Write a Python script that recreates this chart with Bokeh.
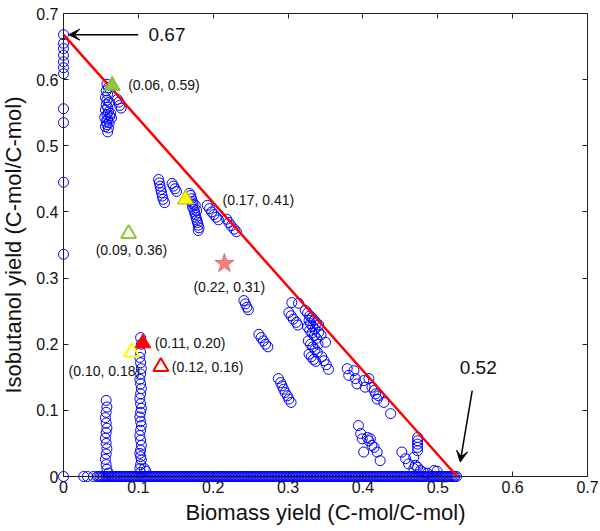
from bokeh.plotting import figure
from bokeh.models import (Range1d, FixedTicker, LinearAxis, CustomJSTickFormatter,
                          Arrow, VeeHead)
from bokeh.core.properties import value
from bokeh.embed import file_html
from bokeh.resources import INLINE

# ---------------- data ----------------
x_ticks = [0.0, 0.1, 0.2, 0.3, 0.4, 0.5, 0.6, 0.7]
x_tick_labels = ["0", "0.1", "0.2", "0.3", "0.4", "0.5", "0.6", "0.7"]
y_ticks = [0.0, 0.1, 0.2, 0.3, 0.4, 0.5, 0.6, 0.7]
y_tick_labels = ["0", "0.1", "0.2", "0.3", "0.4", "0.5", "0.6", "0.7"]

# column of solutions at zero biomass
col0_y = [0.668, 0.655, 0.647, 0.637, 0.627, 0.618, 0.609, 0.556, 0.535, 0.445, 0.336, 0.0]
col0_x = [0.0] * len(col0_y)

# cloud of alternative solutions (biomass yield, isobutanol yield)
cloud_x = [
    0.058, 0.060, 0.057, 0.059, 0.056, 0.058, 0.061, 0.057, 0.059, 0.056, 0.060, 0.058,
    0.062, 0.055, 0.059, 0.057, 0.061, 0.058, 0.056, 0.060, 0.063, 0.064, 0.059,
    0.072, 0.074, 0.075, 0.077,
    0.127, 0.128, 0.129, 0.130, 0.131, 0.132, 0.133, 0.135,
    0.145, 0.147, 0.149, 0.151,
    0.168, 0.170, 0.171, 0.172, 0.173, 0.172, 0.174, 0.175, 0.176, 0.177, 0.178, 0.179,
    0.180, 0.181, 0.180, 0.176, 0.178,
    0.192, 0.195, 0.198, 0.201, 0.204, 0.207,
    0.218, 0.221, 0.224, 0.228, 0.231,
    0.241, 0.243, 0.245, 0.247,
    0.305, 0.314,
    0.301, 0.304, 0.307, 0.311, 0.313,
    0.261, 0.264, 0.267, 0.270, 0.273,
    0.323, 0.326, 0.329, 0.332, 0.335, 0.338, 0.341, 0.328, 0.330, 0.333, 0.336, 0.326,
    0.329, 0.332, 0.335, 0.338, 0.341, 0.344, 0.327, 0.330, 0.333, 0.336, 0.339, 0.328,
    0.331, 0.334, 0.337, 0.345, 0.348, 0.351, 0.354, 0.350, 0.340,
    0.287, 0.290, 0.292, 0.294, 0.296, 0.299, 0.301, 0.304,
    0.379, 0.388, 0.381, 0.390, 0.392, 0.401, 0.403, 0.408, 0.412, 0.415, 0.417, 0.421,
    0.419, 0.428, 0.437,
    0.394, 0.397, 0.399, 0.406, 0.408, 0.410, 0.412, 0.415, 0.401, 0.419, 0.423,
    0.452, 0.457, 0.461, 0.468, 0.470, 0.468, 0.477, 0.473,
    0.473, 0.473, 0.473, 0.473, 0.473,
    0.495, 0.499, 0.481, 0.486,
    0.057, 0.058, 0.057, 0.056, 0.057, 0.058, 0.057, 0.056, 0.057, 0.058, 0.057, 0.056,
    0.057, 0.058, 0.060,
    0.103, 0.104, 0.103, 0.102, 0.103, 0.104, 0.103, 0.102, 0.103, 0.104, 0.103, 0.102,
    0.103, 0.104, 0.103, 0.102, 0.103, 0.104, 0.103, 0.102, 0.103, 0.104, 0.103, 0.102,
    0.103, 0.104, 0.103, 0.102, 0.103, 0.108, 0.110,
]
cloud_y = [
    0.593, 0.588, 0.583, 0.578, 0.573, 0.569, 0.566, 0.562, 0.558, 0.554, 0.551, 0.547,
    0.545, 0.543, 0.540, 0.537, 0.535, 0.532, 0.529, 0.527, 0.549, 0.542, 0.521,
    0.570, 0.566, 0.561, 0.557,
    0.449, 0.444, 0.439, 0.434, 0.429, 0.424, 0.419, 0.414,
    0.443, 0.439, 0.435, 0.431,
    0.428, 0.425, 0.420, 0.416, 0.412, 0.408, 0.404, 0.400, 0.396, 0.392, 0.388, 0.384,
    0.380, 0.376, 0.372, 0.410, 0.402,
    0.410, 0.405, 0.400, 0.396, 0.392, 0.388,
    0.389, 0.384, 0.379, 0.374, 0.370,
    0.266, 0.261, 0.256, 0.252,
    0.263, 0.262,
    0.248, 0.243, 0.238, 0.233, 0.229,
    0.215, 0.210, 0.205, 0.200, 0.196,
    0.251, 0.247, 0.243, 0.240, 0.236, 0.232, 0.229, 0.236, 0.231, 0.227, 0.223, 0.226,
    0.221, 0.217, 0.213, 0.209, 0.218, 0.214, 0.205, 0.200, 0.196, 0.192, 0.188, 0.185,
    0.181, 0.177, 0.174, 0.181, 0.175, 0.169, 0.162, 0.203, 0.200,
    0.148, 0.142, 0.137, 0.132, 0.127, 0.122, 0.117, 0.112,
    0.163, 0.160, 0.153, 0.148, 0.140, 0.145, 0.135, 0.148, 0.135, 0.130, 0.125, 0.122,
    0.117, 0.112, 0.095,
    0.077, 0.065, 0.057, 0.059, 0.054, 0.057, 0.047, 0.044, 0.037, 0.037, 0.024,
    0.037, 0.027, 0.019, 0.029, 0.017, 0.012, 0.009, 0.014,
    0.059, 0.054, 0.049, 0.044, 0.039,
    0.009, 0.008, 0.006, 0.005,
    0.115, 0.105, 0.097, 0.089, 0.081, 0.073, 0.066, 0.058, 0.050, 0.042, 0.034, 0.026,
    0.018, 0.011, 0.005,
    0.210, 0.200, 0.188, 0.180, 0.172, 0.163, 0.155, 0.147, 0.140, 0.133, 0.125, 0.118,
    0.110, 0.103, 0.097, 0.090, 0.083, 0.077, 0.070, 0.062, 0.055, 0.047, 0.040, 0.035,
    0.030, 0.025, 0.018, 0.012, 0.006, 0.012, 0.008,
]

# solutions with zero isobutanol yield (dense row along the x axis)
band_x = [
    0.027, 0.032, 0.040, 0.045, 0.047, 0.049, 0.051, 0.053, 0.055, 0.057, 0.059, 0.061,
    0.063, 0.065, 0.067, 0.069, 0.071, 0.073, 0.075, 0.077, 0.079, 0.081, 0.083, 0.085,
    0.087, 0.089, 0.091, 0.093, 0.095, 0.097, 0.099, 0.101, 0.103, 0.105, 0.107, 0.109,
    0.111, 0.113, 0.115, 0.117, 0.119, 0.121, 0.123, 0.125, 0.127, 0.129, 0.131, 0.133,
    0.135, 0.137, 0.139, 0.141, 0.143, 0.145, 0.147, 0.149, 0.151, 0.153, 0.155, 0.157,
    0.159, 0.161, 0.163, 0.165, 0.167, 0.169, 0.171, 0.173, 0.175, 0.177, 0.179, 0.181,
    0.183, 0.185, 0.187, 0.189, 0.191, 0.193, 0.195, 0.197, 0.199, 0.201, 0.203, 0.205,
    0.207, 0.209, 0.211, 0.213, 0.215, 0.217, 0.219, 0.221, 0.223, 0.225, 0.227, 0.229,
    0.231, 0.233, 0.235, 0.237, 0.239, 0.241, 0.243, 0.245, 0.247, 0.249, 0.251, 0.253,
    0.255, 0.257, 0.259, 0.261, 0.263, 0.265, 0.267, 0.269, 0.271, 0.273, 0.275, 0.277,
    0.279, 0.281, 0.283, 0.285, 0.287, 0.289, 0.291, 0.293, 0.295, 0.297, 0.299, 0.301,
    0.303, 0.305, 0.307, 0.309, 0.311, 0.313, 0.315, 0.317, 0.319, 0.321, 0.323, 0.325,
    0.327, 0.329, 0.331, 0.333, 0.335, 0.337, 0.339, 0.341, 0.343, 0.345, 0.347, 0.349,
    0.351, 0.353, 0.355, 0.357, 0.359, 0.361, 0.363, 0.365, 0.367, 0.369, 0.371, 0.373,
    0.375, 0.377, 0.379, 0.381, 0.383, 0.385, 0.387, 0.389, 0.391, 0.393, 0.395, 0.397,
    0.399, 0.401, 0.403, 0.405, 0.407, 0.409, 0.411, 0.413, 0.415, 0.417, 0.419, 0.421,
    0.423, 0.425, 0.427, 0.429, 0.431, 0.433, 0.435, 0.437, 0.439, 0.441, 0.443, 0.445,
    0.447, 0.449, 0.451, 0.453, 0.455, 0.457, 0.459, 0.461, 0.463, 0.465, 0.467, 0.469,
    0.471, 0.473, 0.475, 0.477, 0.479, 0.481, 0.483, 0.485, 0.487, 0.489, 0.491, 0.493,
    0.495, 0.497, 0.499, 0.501, 0.503, 0.505, 0.507, 0.509, 0.511, 0.513, 0.515, 0.517,
    0.519, 0.521, 0.523, 0.525,
]
band_y = [0.0] * len(band_x)

# theoretical maximum line
max_line_x = [0.0, 0.526]
max_line_y = [0.668, 0.0]
max_iso_label = "0.67"
max_bio_label = "0.52"

# highlighted designs
opt_x = [0.065, 0.163, 0.087, 0.215, 0.106, 0.091, 0.130]
opt_y = [0.591, 0.419, 0.367, 0.322, 0.2015, 0.188, 0.166]
opt_labels = ["(0.06, 0.59)", "(0.17, 0.41)", "(0.09, 0.36)", "(0.22, 0.31)",
              "(0.11, 0.20)", "(0.10, 0.18)", "(0.12, 0.16)"]

# ---------------- styles / layout ----------------
opt_marker = ["triangle", "triangle", "triangle", "star", "triangle", "triangle", "triangle"]
opt_fill = ["#8dc63f", "#ffff00", None, "#f08080", "#ff0000", None, None]
opt_line = ["#78b030", "#b0b000", "#8dc63f", "#e07070", "#ff0000", "#ffff00", "#ff0000"]
opt_lw = [1, 1, 2, 1, 1, 2, 2]
opt_size = [16, 16, 15, 20, 16, 15, 15]
lab_dx = [16, 37, -33, -31, 12, -63, 11]
lab_dy = [-1, 1, 16, 23, 0, 19, 0]

FONT = "Liberation Sans"
W, H = 600, 531
# pixel positions of the axes box inside the canvas
PX_L, PX_R, PX_T, PX_B = 63, 587, 13, 476
AX_MAX = 0.7
sx = (PX_R - PX_L) / AX_MAX
sy = (PX_B - PX_T) / AX_MAX

p = figure(frame_width=W, frame_height=H,
           x_range=Range1d(-PX_L / sx, AX_MAX + (W - PX_R) / sx),
           y_range=Range1d(-(H - PX_B) / sy, AX_MAX + PX_T / sy),
           output_backend="svg", toolbar_location=None,
           min_border_left=0, min_border_right=0, min_border_top=0, min_border_bottom=0,
           background_fill_color="white", border_fill_color="white",
           outline_line_color=None)
p.grid.visible = False

def style_axis(ax, ticks, labels, loc, show_labels=True):
    ax.fixed_location = loc
    ax.bounds = (0, AX_MAX)
    ax.ticker = FixedTicker(ticks=ticks)
    ax.major_tick_in = 5
    ax.major_tick_out = 0
    ax.minor_tick_line_color = None
    ax.axis_line_color = "#202020"
    ax.major_tick_line_color = "#202020"
    ax.axis_line_width = 1
    if show_labels:
        ax.major_label_overrides = {t: l for t, l in zip(ticks, labels)}
        ax.major_label_text_font = FONT
        ax.major_label_text_font_size = "16px"
        ax.major_label_text_color = "#111111"
        ax.axis_label_text_font = FONT
        ax.axis_label_text_font_size = "22px"
        ax.axis_label_text_font_style = "normal"
        ax.axis_label_text_color = "#111111"
    else:
        ax.formatter = CustomJSTickFormatter(code="return ''")

xa = p.xaxis[0]
ya = p.yaxis[0]
style_axis(xa, x_ticks, x_tick_labels, 0)
style_axis(ya, y_ticks, y_tick_labels, 0)
xa.axis_label = "Biomass yield (C-mol/C-mol)"
ya.axis_label = "Isobutanol yield (C-mol/C-mol)"
xa.major_label_standoff = 4
xa.axis_label_standoff = 4
ya.major_label_standoff = 5
ya.axis_label_standoff = 7

top = LinearAxis()
style_axis(top, x_ticks, x_tick_labels, AX_MAX, show_labels=False)
p.add_layout(top, "above")
right = LinearAxis()
style_axis(right, y_ticks, y_tick_labels, AX_MAX, show_labels=False)
p.add_layout(right, "right")

CIRC = dict(marker="circle", size=10, fill_color=None, line_color="#0000ff", line_width=1)
p.scatter(band_x, band_y, **CIRC)
p.scatter(cloud_x, cloud_y, **CIRC)
p.scatter(col0_x, col0_y, **CIRC)

p.line(max_line_x, max_line_y, line_color="#ff0000", line_width=2.5)

for i in range(len(opt_x)):
    p.scatter([opt_x[i]], [opt_y[i]], marker=opt_marker[i], size=opt_size[i],
              fill_color=opt_fill[i], line_color=opt_line[i], line_width=opt_lw[i])

p.text(x=opt_x, y=opt_y, text=opt_labels, x_offset=lab_dx, y_offset=lab_dy,
       text_font=value(FONT), text_font_size="14px", text_align="left",
       text_baseline="middle", text_color="#111111")

# arrows to intercepts
y_int = max_line_y[0]
x_int = max_line_x[1]
p.add_layout(Arrow(end=VeeHead(size=11, fill_color="black", line_color="black"),
                   x_start=0.100, y_start=y_int, x_end=0.007, y_end=y_int,
                   line_color="black", line_width=1.5))
p.text(x=[0.1135], y=[y_int], text=[max_iso_label], text_font=value(FONT),
       text_font_size="19px", text_align="left", text_baseline="middle", text_color="#111111")
p.add_layout(Arrow(end=VeeHead(size=11, fill_color="black", line_color="black"),
                   x_start=x_int + 0.020, y_start=0.130, x_end=x_int + 0.004, y_end=0.022,
                   line_color="black", line_width=1.5))
p.text(x=[x_int + 0.028], y=[0.165], text=[max_bio_label], text_font=value(FONT),
       text_font_size="19px", text_align="center", text_baseline="middle", text_color="#111111")

open("out.html", "w").write(file_html(p, INLINE))
